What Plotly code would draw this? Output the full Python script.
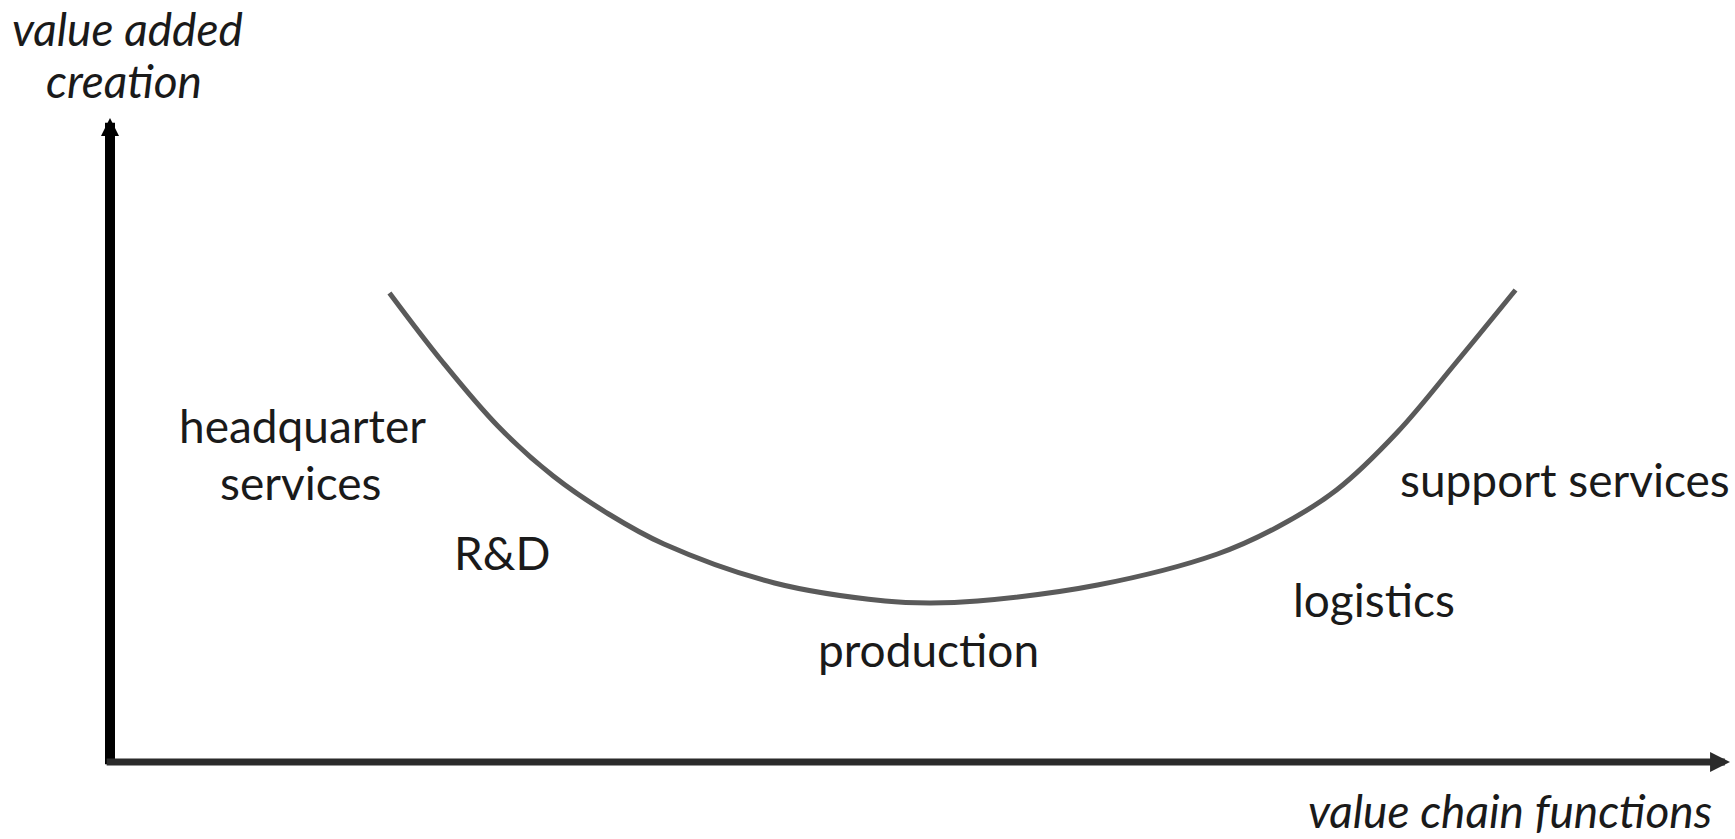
import plotly.graph_objects as go

# ---- data ----
curve_x = [17.25, 20.53, 23.94, 27.36, 30.78, 34.19, 41.02, 47.85, 50.59,
           53.55, 60.96, 68.36, 72.07, 75.71, 79.48, 83.12, 86.76]
curve_y = [72.83, 62.11, 52.17, 44.41, 38.51, 33.85, 27.80, 25.00, 24.69,
           25.00, 27.48, 32.30, 36.49, 42.24, 51.24, 62.11, 73.29]

labels = ["headquarter", "services", "R&D", "production", "logistics", "support services"]
axis_titles = ["value added", "creation", "value chain functions"]

# ---- layout positions (paper fractions, not data) ----
label_pos = [(0.119, 0.523, "center"), (0.1173, 0.434, "center"), (0.242, 0.325, "center"),
             (0.505, 0.174, "center"), (0.780, 0.252, "center"), (1.0015, 0.438, "right")]
title_pos = [(0.0111, 1.1832, "center", "top"), (0.0086, 1.059, "center", "middle"),
             (0.864, -0.1196, "center", "bottom")]

FONT = "Lato, 'Open Sans', sans-serif"
TXT = "#1a1a1a"

fig = go.Figure()
fig.add_trace(go.Scatter(
    x=curve_x, y=curve_y, mode="lines",
    line=dict(color="#5a5a5a", width=5, shape="spline", smoothing=1.0),
    hoverinfo="skip", showlegend=False,
))

ann = []
for t, (x, y, xa) in zip(labels, label_pos):
    ann.append(dict(x=x, y=y, xref="paper", yref="paper", text=t, showarrow=False,
                    font=dict(family=FONT, size=46, color=TXT),
                    xanchor=xa, yanchor="middle"))
for t, (x, y, xa, ya) in zip(axis_titles, title_pos):
    ann.append(dict(x=x, y=y, xref="paper", yref="paper", text="<i>" + t + "</i>", showarrow=False,
                    font=dict(family=FONT, size=46, color=TXT),
                    xanchor=xa, yanchor=ya, borderpad=0))

# axes drawn as arrows
ann.append(dict(x=0, y=100, ax=0, ay=-0.6, xref="x", yref="y", axref="x", ayref="y",
                text="", showarrow=True, arrowhead=2, arrowsize=0.36, arrowwidth=10,
                arrowcolor="#000000", standoff=0, startstandoff=0))
ann.append(dict(x=100, y=0, ax=-0.3, ay=0, xref="x", yref="y", axref="x", ayref="y",
                text="", showarrow=True, arrowhead=2, arrowsize=0.57, arrowwidth=7,
                arrowcolor="#2b2b2b", standoff=0, startstandoff=0))

fig.update_layout(
    width=1735, height=839,
    margin=dict(l=110, r=5, t=118, b=77),
    paper_bgcolor="white", plot_bgcolor="white",
    xaxis=dict(range=[0, 100], visible=False, fixedrange=True),
    yaxis=dict(range=[0, 100], visible=False, fixedrange=True),
    annotations=ann,
    showlegend=False,
)

fig.write_html(
    "out.html",
    config={"displayModeBar": False},
    post_script="document.body.style.margin='0';document.body.style.overflow='hidden';",
)
